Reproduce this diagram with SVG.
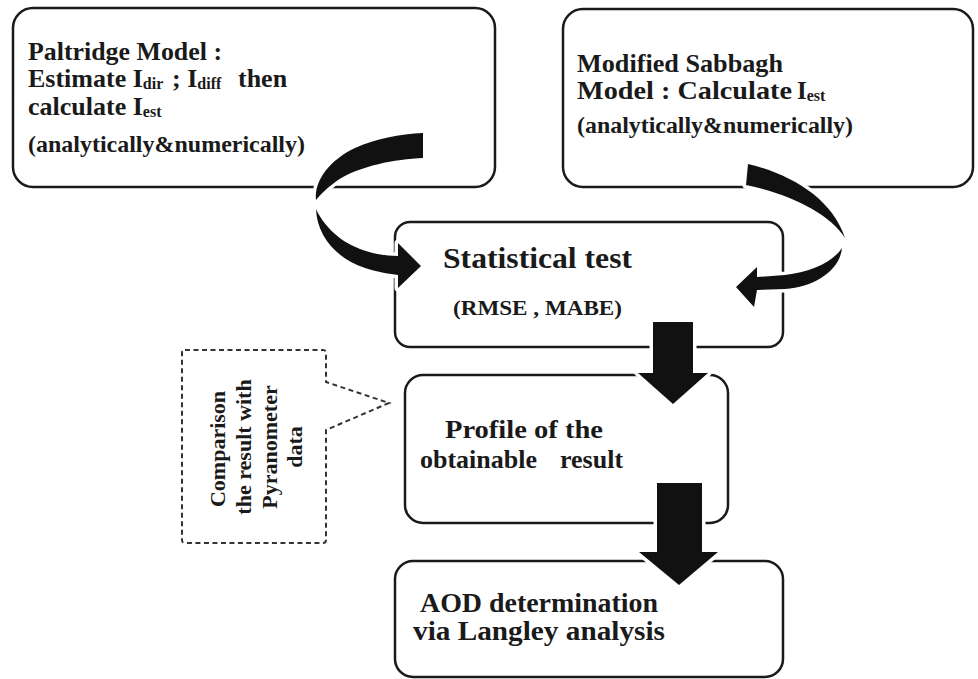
<svg xmlns="http://www.w3.org/2000/svg" width="978" height="679" viewBox="0 0 978 679">
<style>
.box{fill:none;stroke:#1a1a1a;stroke-width:2.5}
.call{fill:none;stroke:#333;stroke-width:2;stroke-dasharray:5 3.5}
text{font-family:'Liberation Serif','DejaVu Serif',serif;font-weight:bold;fill:#1a1a1a}
.arr{fill:#111;stroke:#fff;stroke-width:7;paint-order:stroke;stroke-linejoin:round}
</style>
<rect width="978" height="679" fill="#fff"/>
<g id="paltridge" font-family="Liberation Serif, DejaVu Serif, serif">
<rect class="box" x="13" y="8" width="482" height="179" rx="20"/>
<text font-size="26" x="28" y="60" textLength="194" lengthAdjust="spacingAndGlyphs">Paltridge Model :</text>
<text font-size="26" x="28" y="87">Estimate I<tspan font-size="16" dy="2">dir</tspan><tspan x="172" dy="-2">; I</tspan><tspan font-size="16" dy="2">diff</tspan><tspan x="238" dy="-2">then</tspan></text>
<text font-size="26" x="28" y="115">calculate I<tspan font-size="16" dy="2">est</tspan></text>
<text font-size="24" x="28" y="152" textLength="277" lengthAdjust="spacingAndGlyphs">(analytically&amp;numerically)</text>
</g>
<g id="sabbagh" font-family="Liberation Serif, DejaVu Serif, serif">
<rect class="box" x="563" y="9" width="410" height="178" rx="20"/>
<text font-size="25" x="577" y="72" textLength="206" lengthAdjust="spacingAndGlyphs">Modified Sabbagh</text>
<text font-size="25" x="577" y="99" textLength="215" lengthAdjust="spacingAndGlyphs">Model : Calculate</text>
<text font-size="25" x="797" y="99">I<tspan font-size="16" dy="2">est</tspan></text>
<text font-size="24" x="577" y="133" textLength="276" lengthAdjust="spacingAndGlyphs">(analytically&amp;numerically)</text>
</g>
<g id="statistical" font-family="Liberation Serif, DejaVu Serif, serif">
<rect class="box" x="395" y="222" width="388" height="125" rx="15"/>
<text font-size="29" x="443" y="268" textLength="189" lengthAdjust="spacingAndGlyphs">Statistical test</text>
<text font-size="21" x="453" y="315" textLength="169" lengthAdjust="spacingAndGlyphs">(RMSE , MABE)</text>
</g>
<g id="profile" font-family="Liberation Serif, DejaVu Serif, serif">
<rect class="box" x="405" y="375" width="323" height="148" rx="18"/>
<text font-size="26" x="445" y="438" textLength="158" lengthAdjust="spacingAndGlyphs">Profile of the</text>
<text font-size="26" x="420" y="468">obtainable<tspan x="560">result</tspan></text>
</g>
<g id="aod" font-family="Liberation Serif, DejaVu Serif, serif">
<rect class="box" x="395" y="561" width="388" height="116" rx="18"/>
<text font-size="28" x="420" y="612" textLength="238" lengthAdjust="spacingAndGlyphs">AOD determination</text>
<text font-size="28" x="413" y="640" textLength="252" lengthAdjust="spacingAndGlyphs">via Langley analysis</text>
</g>
<g id="comparison" font-family="Liberation Serif, DejaVu Serif, serif">
<path class="call" d="M185,350 H323 Q326,350 326,353 V382 L389,403 L326,430 V540 Q326,543 323,543 H185 Q182,543 182,540 V353 Q182,350 185,350 Z"/>
<g font-size="22" text-anchor="middle">
<text transform="translate(225,449) rotate(-90)">Comparison</text>
<text transform="translate(251,447) rotate(-90)">the result with</text>
<text transform="translate(277,447) rotate(-90)">Pyranometer</text>
<text transform="translate(302,447) rotate(-90)">data</text>
</g>
</g>
<g id="connectors">
<path class="arr" d="M316,200 C314,180 330,160 355,148 C375,139 400,134 423,133 L423,158 C395,159 360,166 338,180 C328,187 320,195 316,200 Z"/>
<path class="arr" d="M316,209 C317,235 335,258 365,268 C378,272 390,274 398,275 L398,288 L421,266 L398,243 L398,256 C375,256 350,248 335,234 C325,225 319,216 316,209 Z"/>
<path class="arr" d="M748,164 C790,174 832,198 845,238 C830,214 790,194 746,185 Z"/>
<path class="arr" d="M842,248 C840,270 815,287 785,289 L757,290 L754,307 L736,287 L757,267 L757,277 L785,275 C810,272 832,263 842,248 Z"/>
<path class="arr" d="M653,322 H693 V373 H708 L673,404 L638,373 H653 Z"/>
<path class="arr" d="M657,483 H702 V552 H718 L679,585 L639,552 H657 Z"/>
</g>
</svg>
